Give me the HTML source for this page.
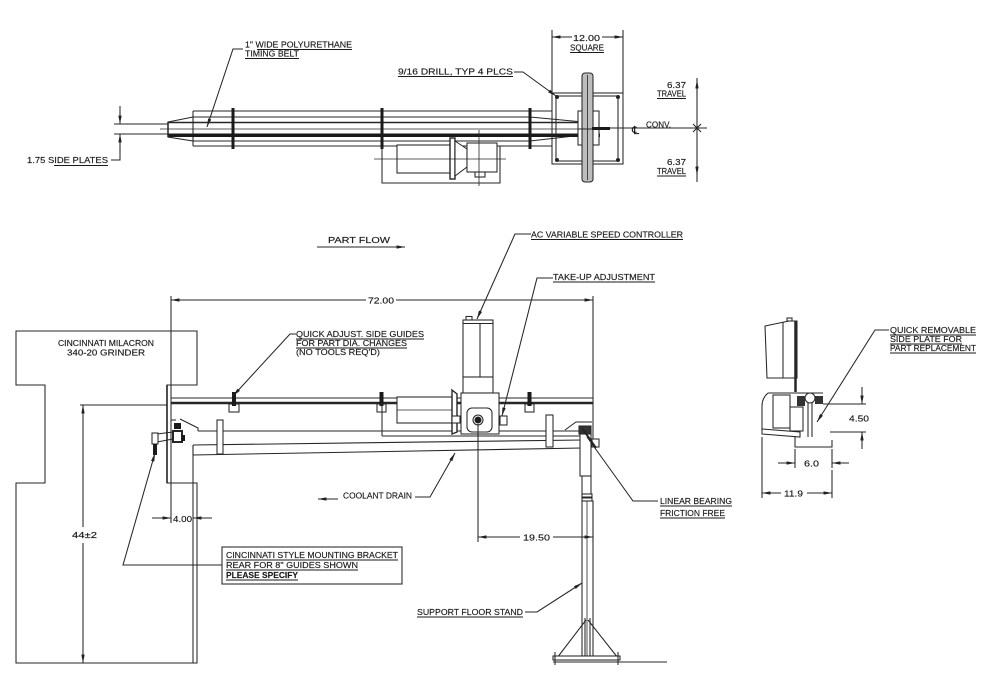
<!DOCTYPE html>
<html><head><meta charset="utf-8"><style>
html,body{margin:0;padding:0;background:#fff;}
svg{display:block}
text{font-family:"Liberation Sans",sans-serif;font-size:8.5px;fill:#1a1a1a;stroke:#1a1a1a;stroke-width:0.15;}
</style></head><body>
<svg width="1000" height="700" viewBox="0 0 1000 700" xmlns="http://www.w3.org/2000/svg">
<defs>
<marker id="a" viewBox="0 0 10 4" refX="10" refY="2" markerWidth="9" markerHeight="3.4" markerUnits="userSpaceOnUse" orient="auto-start-reverse"><path d="M0,0 L10,2 L0,4z" fill="#222"/></marker>
</defs>
<rect width="1000" height="700" fill="#fff"/>
<g stroke="#262626" stroke-width="1.05" fill="none">

<!-- ===== TOP VIEW ===== -->
<polyline points="243,49 233,49 207,127" marker-end="url(#a)"/>
<!-- 1.75 dim -->
<line x1="114" y1="124" x2="168" y2="124"/>
<line x1="114" y1="134" x2="168" y2="134"/>
<line x1="120" y1="106" x2="120" y2="124" marker-end="url(#a)"/>
<line x1="120" y1="152" x2="120" y2="134" marker-end="url(#a)"/>
<polyline points="120,150 120,160 111,160"/>
<!-- belt body -->
<line x1="193" y1="111" x2="552" y2="111"/>
<line x1="193" y1="146" x2="552" y2="146"/>
<line x1="193" y1="111" x2="193" y2="146"/>
<line x1="193" y1="117" x2="530" y2="117"/>
<line x1="193" y1="141" x2="530" y2="141"/>
<polyline points="530,117 583,122"/>
<polyline points="530,141 583,135"/>
<polygon points="168,122 193,117 193,141 168,137" fill="#fff"/>
<line x1="168" y1="122.5" x2="592" y2="122.5" stroke-width="1.6"/>
<line x1="160" y1="129" x2="600" y2="129" stroke-width="0.8"/>
<rect x="168" y="133.5" width="432" height="3.5" fill="#1a1a1a" stroke="none"/>
<line x1="168" y1="122" x2="168" y2="137" stroke-width="1.5"/>
<!-- bars -->
<rect x="231.5" y="108" width="3" height="41" fill="#1a1a1a" stroke="none"/>
<rect x="380.5" y="108" width="3" height="41" fill="#1a1a1a" stroke="none"/>
<rect x="528.5" y="108" width="3" height="41" fill="#1a1a1a" stroke="none"/>
<!-- square -->
<rect x="552" y="93" width="71" height="71" fill="none"/>
<rect x="556" y="96" width="62" height="65" fill="none"/>
<circle cx="557" cy="97" r="1.5" fill="#222"/><circle cx="618" cy="97" r="1.5" fill="#222"/>
<circle cx="557" cy="160" r="1.5" fill="#222"/><circle cx="618" cy="160" r="1.5" fill="#222"/>
<rect x="578" y="111" width="21" height="34" fill="#fff"/>
<rect x="582" y="73" width="11" height="109" rx="3" fill="#bdbdbd"/>
<line x1="587.5" y1="75" x2="587.5" y2="180" stroke-width="0.8"/>
<line x1="578" y1="129" x2="600" y2="129"/>
<rect x="592" y="127" width="18" height="3" fill="#1a1a1a" stroke="none"/>
<line x1="610" y1="128" x2="707" y2="128" stroke-width="0.9"/>
<!-- 12.00 -->
<line x1="552" y1="30" x2="552" y2="93"/>
<line x1="623" y1="30" x2="623" y2="93"/>
<line x1="572" y1="37" x2="552" y2="37" marker-end="url(#a)"/>
<line x1="602" y1="37" x2="623" y2="37" marker-end="url(#a)"/>
<polyline points="514,72 523,72 556,96" marker-end="url(#a)"/>
<!-- travel -->
<line x1="697" y1="78" x2="697" y2="182"/>
<line x1="697" y1="95" x2="697" y2="80" marker-end="url(#a)"/>
<line x1="697" y1="160" x2="697" y2="175" marker-end="url(#a)"/>
<line x1="693" y1="124" x2="701" y2="132"/><line x1="693" y1="132" x2="701" y2="124"/>
<!-- motor top -->
<polyline points="382,146 382,183 500,183 500,146"/>
<rect x="397" y="145" width="55" height="28" fill="#fff"/>
<rect x="450" y="138" width="5" height="41" fill="#fff" stroke-width="1.4"/>
<polygon points="455,141 467,149 467,167 455,176" fill="#fff"/>
<rect x="467" y="143" width="30" height="29" fill="#fff"/>
<rect x="475" y="172" width="10" height="5" fill="#fff"/>
<line x1="374" y1="159" x2="506" y2="159" stroke-width="0.8"/>
<line x1="479" y1="130" x2="479" y2="186" stroke-width="0.8"/>

<!-- ===== SIDE VIEW ===== -->
<line x1="317" y1="247" x2="405" y2="247" marker-end="url(#a)"/>
<!-- grinder -->
<path d="M16,331 H197 V385 H167 V483 H197 V663 H16 V483 H45 V385 H16 Z"/>
<line x1="171" y1="296" x2="171" y2="523"/>
<line x1="193" y1="445" x2="193" y2="663"/>
<!-- 72.00 -->
<line x1="366" y1="300" x2="171" y2="300" marker-end="url(#a)"/>
<line x1="396" y1="300" x2="593" y2="300" marker-end="url(#a)"/>
<line x1="593" y1="296" x2="593" y2="440"/>
<!-- 44 -->
<line x1="80" y1="405" x2="167" y2="405"/>
<line x1="83" y1="527" x2="83" y2="405" marker-end="url(#a)"/>
<line x1="83" y1="543" x2="83" y2="663" marker-end="url(#a)"/>
<!-- rail -->
<line x1="171" y1="398" x2="593" y2="398"/>
<line x1="171" y1="403" x2="593" y2="403" stroke-width="2.6"/>
<!-- guides -->
<rect x="229" y="404" width="10" height="8" fill="#fff"/><rect x="232" y="392" width="4" height="14" fill="#1a1a1a" stroke="none"/>
<rect x="377" y="404" width="9" height="8" fill="#fff"/><rect x="379.5" y="392" width="4" height="14" fill="#1a1a1a" stroke="none"/>
<rect x="525" y="404" width="9" height="8" fill="#fff"/><rect x="527.5" y="392" width="4" height="14" fill="#1a1a1a" stroke="none"/>
<!-- frame -->
<line x1="382" y1="403" x2="382" y2="436"/>
<line x1="198" y1="431" x2="582" y2="431"/>
<line x1="382" y1="436" x2="582" y2="436"/>
<line x1="193" y1="445" x2="582" y2="440"/>
<line x1="193" y1="455" x2="582" y2="448"/>
<line x1="193" y1="445" x2="193" y2="455"/>
<rect x="217" y="420" width="6" height="34" fill="#fff"/>
<rect x="546" y="415" width="7" height="32" fill="#fff"/>
<!-- left bracket -->
<line x1="167" y1="385" x2="167" y2="483" stroke-width="1.6"/>
<polyline points="171,420 176,420"/>
<polyline points="180,419 198,428 198,431"/>
<rect x="174" y="423" width="7" height="6" fill="#1a1a1a" stroke="none"/>
<rect x="173" y="431" width="9" height="11" fill="#fff" stroke-width="2"/>
<rect x="181" y="435" width="4" height="6" fill="#1a1a1a" stroke="none"/>
<line x1="157" y1="434" x2="173" y2="432"/>
<line x1="157" y1="442" x2="173" y2="439"/>
<rect x="152" y="433" width="6" height="11" fill="#fff"/>
<rect x="153" y="444" width="4" height="11" fill="#1a1a1a" stroke="none"/>
<!-- motor side -->
<rect x="397" y="397" width="55" height="26" fill="#fff"/>
<line x1="397" y1="410" x2="452" y2="410" stroke-width="0.8"/>
<polygon points="452,390 457,394 457,432 452,434" fill="#fff" stroke-width="1.4"/>
<rect x="452" y="416" width="8" height="7" fill="#fff"/>
<rect x="463" y="320" width="30" height="57" fill="#fff"/>
<line x1="463" y1="323.5" x2="493" y2="323.5"/>
<line x1="480" y1="323" x2="480" y2="377"/>
<rect x="466" y="316.5" width="6" height="3.5" fill="#fff"/>
<rect x="463" y="377" width="30" height="16" fill="#fff"/>
<rect x="461" y="393" width="38" height="41" fill="#fff"/>
<rect x="467" y="408" width="25" height="24" rx="5" fill="#fff"/>
<circle cx="478" cy="420" r="5" fill="#fff"/>
<circle cx="478" cy="420" r="3" fill="#1a1a1a"/>
<rect x="500" y="416" width="7" height="9" fill="#fff"/>
<!-- right end -->
<polyline points="565,430 576,422 592,422"/>
<rect x="579" y="426" width="12" height="8" fill="#333"/>
<rect x="592" y="439" width="7" height="8" fill="#fff"/>
<rect x="580" y="434" width="11" height="42" fill="#fff"/>
<line x1="582" y1="428" x2="596" y2="448" stroke-width="2"/>
<rect x="582" y="476" width="9" height="18" fill="#fff"/>
<rect x="582" y="494" width="10" height="7" fill="#fff"/>
<line x1="582" y1="497.5" x2="592" y2="497.5" stroke-width="2"/>
<rect x="582" y="501" width="11" height="157" fill="#fff"/>
<line x1="587" y1="501" x2="587" y2="658" stroke-width="0.8"/>
<line x1="586" y1="620" x2="557" y2="658"/>
<line x1="588" y1="620" x2="618" y2="658"/>
<line x1="585" y1="618" x2="585" y2="658"/><line x1="590" y1="618" x2="590" y2="658"/>
<rect x="553" y="656" width="67" height="4" fill="#fff"/>
<line x1="553" y1="662" x2="667" y2="662"/>
<line x1="555" y1="652" x2="555" y2="665"/><line x1="618" y1="652" x2="618" y2="665"/>
<!-- 19.50 -->
<line x1="478" y1="424" x2="478" y2="542"/>
<line x1="520" y1="537" x2="478" y2="537" marker-end="url(#a)"/>
<line x1="553" y1="537" x2="593" y2="537" marker-end="url(#a)"/>
<line x1="593" y1="501" x2="593" y2="542"/>
<!-- 4.00 -->
<line x1="152" y1="518" x2="171" y2="518" marker-end="url(#a)"/>
<line x1="212" y1="518" x2="193" y2="518" marker-end="url(#a)"/>
<!-- box -->
<rect x="222" y="547" width="180" height="37"/>
<polyline points="222,565 123,565 155,453" marker-end="url(#a)"/>
<!-- leaders -->
<polyline points="296,334 290,334 233,396" marker-end="url(#a)"/>
<polyline points="531,234 515,234 477,319" marker-end="url(#a)"/>
<polyline points="553,278 537,278 502,416" marker-end="url(#a)"/>
<line x1="338" y1="499" x2="318" y2="499" marker-end="url(#a)"/>
<polyline points="415,497 430,497 455,453" marker-end="url(#a)"/>
<polyline points="658,501 633,501 587,437" />
<polyline points="525,612 537,612 582,583" marker-end="url(#a)"/>

<!-- ===== RIGHT VIEW ===== -->
<polygon points="765,326 789,321 797,321 797,378 767,378" fill="#fff"/>
<line x1="783" y1="322" x2="783" y2="378"/>
<line x1="795.5" y1="321" x2="795.5" y2="392" stroke-width="2.5"/>
<rect x="787" y="318" width="5" height="3" fill="#fff"/>
<path d="M768,393 H823 M768,393 Q762,398 762,406 V430"/>
<rect x="773" y="395" width="17" height="33" fill="#fff"/>
<rect x="790" y="407" width="13" height="24" fill="#fff"/>
<polygon points="762,429 800,432 800,437 762,434" fill="#fff"/>
<line x1="808" y1="400" x2="808" y2="437"/>
<line x1="812" y1="400" x2="812" y2="437"/>
<path d="M797,396 h8 v10 h-8 z M815,396 h8 v8 h-8 z" fill="#333" stroke="none"/>
<circle cx="810" cy="398" r="5" fill="#fff"/>
<polyline points="795,437 795,447 832,447 832,440"/>
<!-- 4.50 -->
<line x1="823" y1="404" x2="866" y2="404"/>
<line x1="830" y1="432" x2="866" y2="432"/>
<line x1="862" y1="387" x2="862" y2="404" marker-end="url(#a)"/>
<line x1="862" y1="449" x2="862" y2="432" marker-end="url(#a)"/>
<!-- 6.0 -->
<line x1="795" y1="449" x2="795" y2="468"/>
<line x1="832" y1="449" x2="832" y2="468"/>
<line x1="778" y1="463" x2="795" y2="463" marker-end="url(#a)"/>
<line x1="849" y1="463" x2="832" y2="463" marker-end="url(#a)"/>
<!-- 11.9 -->
<line x1="762" y1="437" x2="762" y2="498"/>
<line x1="832" y1="470" x2="832" y2="498"/>
<line x1="781" y1="493" x2="762" y2="493" marker-end="url(#a)"/>
<line x1="807" y1="493" x2="832" y2="493" marker-end="url(#a)"/>
<polyline points="889,330 875,330 817,422" marker-end="url(#a)"/>
</g>

<!-- underlines -->
<g stroke="#1a1a1a" stroke-width="0.9">
<line x1="257" y1="49.5" x2="352" y2="49.5"/>
<line x1="245" y1="58.5" x2="299" y2="58.5"/>
<line x1="54" y1="165.5" x2="108" y2="165.5"/>
<line x1="398" y1="76.5" x2="513" y2="76.5"/>
<line x1="570" y1="52.5" x2="604" y2="52.5"/>
<line x1="657" y1="98.5" x2="686" y2="98.5"/>
<line x1="657" y1="176" x2="686" y2="176"/>
<line x1="531" y1="239.5" x2="683" y2="239.5"/>
<line x1="553" y1="282" x2="655" y2="282"/>
<line x1="296" y1="339" x2="424" y2="339"/>
<line x1="296" y1="348" x2="407" y2="348"/>
<line x1="226" y1="560" x2="398" y2="560"/>
<line x1="226" y1="570" x2="358" y2="570"/>
<line x1="226" y1="580" x2="298" y2="580"/>
<line x1="660" y1="506" x2="732" y2="506"/>
<line x1="660" y1="518" x2="725" y2="518"/>
<line x1="417" y1="617" x2="523" y2="617"/>
<line x1="890" y1="335" x2="976" y2="335"/>
<line x1="890" y1="344" x2="962" y2="344"/>
<line x1="890" y1="353" x2="976" y2="353"/>
</g>

<!-- texts -->
<text x="245" y="47.5" textLength="107" lengthAdjust="spacingAndGlyphs">1" WIDE POLYURETHANE</text>
<text x="245" y="56.5" textLength="54" lengthAdjust="spacingAndGlyphs">TIMING BELT</text>
<text x="27" y="163" textLength="81" lengthAdjust="spacingAndGlyphs">1.75 SIDE PLATES</text>
<text x="398" y="74.5" textLength="115" lengthAdjust="spacingAndGlyphs">9/16 DRILL, TYP 4 PLCS</text>
<text x="573" y="41" textLength="27" lengthAdjust="spacingAndGlyphs">12.00</text>
<text x="570" y="50.5" textLength="34" lengthAdjust="spacingAndGlyphs">SQUARE</text>
<text x="667" y="88" textLength="19" lengthAdjust="spacingAndGlyphs">6.37</text>
<text x="657" y="96.5" textLength="29" lengthAdjust="spacingAndGlyphs">TRAVEL</text>
<text x="667" y="165" textLength="19" lengthAdjust="spacingAndGlyphs">6.37</text>
<text x="657" y="174" textLength="29" lengthAdjust="spacingAndGlyphs">TRAVEL</text>
<text x="646" y="127.5" textLength="25" lengthAdjust="spacingAndGlyphs">CONV.</text>
<text x="632" y="134" style="font-family:'DejaVu Sans',sans-serif;font-size:11px">℄</text>

<text x="328" y="243" textLength="62" lengthAdjust="spacingAndGlyphs">PART FLOW</text>
<text x="531" y="237.5" textLength="152" lengthAdjust="spacingAndGlyphs">AC VARIABLE SPEED CONTROLLER</text>
<text x="553" y="280" textLength="102" lengthAdjust="spacingAndGlyphs">TAKE-UP ADJUSTMENT</text>
<text x="368" y="303.5" textLength="26" lengthAdjust="spacingAndGlyphs">72.00</text>
<text x="296" y="337" textLength="128" lengthAdjust="spacingAndGlyphs">QUICK ADJUST. SIDE GUIDES</text>
<text x="296" y="346" textLength="111" lengthAdjust="spacingAndGlyphs">FOR PART DIA. CHANGES</text>
<text x="296" y="355" textLength="84" lengthAdjust="spacingAndGlyphs">(NO TOOLS REQ'D)</text>
<text x="58" y="346" textLength="96" lengthAdjust="spacingAndGlyphs">CINCINNATI MILACRON</text>
<text x="67" y="355.5" textLength="78" lengthAdjust="spacingAndGlyphs">340-20 GRINDER</text>
<text x="72" y="538" textLength="25" lengthAdjust="spacingAndGlyphs">44±2</text>
<text x="173" y="522" textLength="19" lengthAdjust="spacingAndGlyphs">4.00</text>
<text x="226" y="558" textLength="172" lengthAdjust="spacingAndGlyphs">CINCINNATI STYLE MOUNTING BRACKET</text>
<text x="226" y="568" textLength="132" lengthAdjust="spacingAndGlyphs">REAR FOR 8" GUIDES SHOWN</text>
<text x="226" y="578" textLength="72" lengthAdjust="spacingAndGlyphs" font-weight="bold">PLEASE SPECIFY</text>
<text x="343" y="498.5" textLength="69" lengthAdjust="spacingAndGlyphs">COOLANT DRAIN</text>
<text x="523" y="540.5" textLength="27" lengthAdjust="spacingAndGlyphs">19.50</text>
<text x="660" y="504" textLength="72" lengthAdjust="spacingAndGlyphs">LINEAR BEARING</text>
<text x="660" y="516" textLength="65" lengthAdjust="spacingAndGlyphs">FRICTION FREE</text>
<text x="417" y="615" textLength="106" lengthAdjust="spacingAndGlyphs">SUPPORT FLOOR STAND</text>

<text x="890" y="333" textLength="86" lengthAdjust="spacingAndGlyphs">QUICK REMOVABLE</text>
<text x="890" y="342" textLength="72" lengthAdjust="spacingAndGlyphs">SIDE PLATE FOR</text>
<text x="890" y="351" textLength="86" lengthAdjust="spacingAndGlyphs">PART REPLACEMENT</text>
<text x="849" y="421.5" textLength="20" lengthAdjust="spacingAndGlyphs">4.50</text>
<text x="804" y="466.5" textLength="15" lengthAdjust="spacingAndGlyphs">6.0</text>
<text x="784" y="496.5" textLength="19" lengthAdjust="spacingAndGlyphs">11.9</text>
</svg>
</body></html>
